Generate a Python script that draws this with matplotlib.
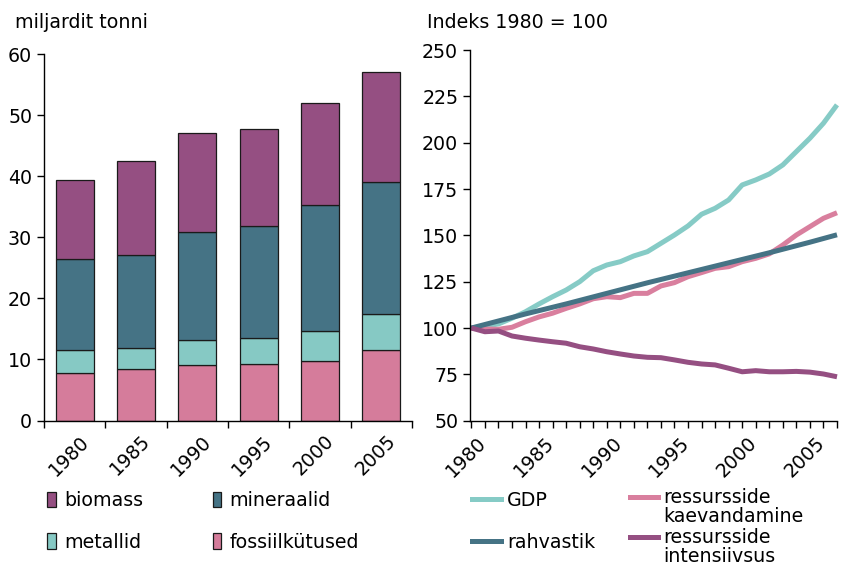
#!/usr/bin/env python3

import matplotlib.pyplot as plt
import matplotlib.transforms as mtransforms
from matplotlib.legend_handler import HandlerLine2D
from matplotlib.lines import Line2D
from matplotlib.patches import Patch


BAR_YEARS = ["1980", "1985", "1990", "1995", "2000", "2005"]
fossiil = [7.85, 8.4, 9.05, 9.3, 9.75, 11.6]
metallid = [3.75, 3.4, 4.15, 4.15, 4.85, 5.8]
mineraalid = [14.8, 15.3, 17.6, 18.45, 20.6, 21.7]
biomass = [13.0, 15.4, 16.3, 15.9, 16.7, 18.0]

years = list(range(1980, 2008))
gdp = [100, 101, 102.2, 105.3, 108.8, 113, 116.9, 120.5, 125, 130.9,
       134, 135.8, 138.9, 141.2, 145.7, 150.2, 155.1, 161.4, 164.6, 169.1,
       177.2, 179.9, 183.1, 188, 195.2, 202.4, 210.5, 220.4]
rahvastik = [100, 101.9, 103.8, 105.7, 107.6, 109.4, 111.2, 113.0, 114.9,
             116.8, 118.7, 120.6, 122.5, 124.4, 126.2, 128.0, 129.8, 131.6,
             133.4, 135.2, 137.0, 138.8, 140.6, 142.5, 144.4, 146.3, 148.3,
             150.3]
kaevandamine = [100, 99.5, 99.3, 100.4, 103.4, 106, 108, 110.6, 113, 115.8,
                116.9, 116.4, 118.7, 118.7, 122.7, 124.5, 127.7, 129.9, 132.2,
                133.1, 135.8, 137.6, 140, 144.8, 150.2, 154.7, 159.2, 162.2]
intensiivsus = [100, 98.0, 98.4, 95.7, 94.5, 93.5, 92.6, 91.8, 89.9, 88.7,
                87.2, 86.0, 84.9, 84.2, 84.0, 82.8, 81.5, 80.6, 80.1, 78.3,
                76.4, 77.0, 76.4, 76.4, 76.6, 76.2, 75.2, 73.7]

PURPLE = "#954F82"
DARKTEAL = "#457385"
LIGHTTEAL = "#86C9C4"
PINK = "#D57C9B"

FS = 13.7
plt.rcParams["font.family"] = ["DejaVu Sans"]
plt.rcParams["font.size"] = FS


class FirstLineHandler(HandlerLine2D):
    # put the line next to the first row of a two-line label
    def create_artists(self, legend, orig_handle, xdescent, ydescent,
                       width, height, fontsize, trans):
        artists = super().create_artists(legend, orig_handle, xdescent,
                                         ydescent, width, height, fontsize,
                                         trans)
        for a in artists:
            a.set_ydata([y + 0.55 * fontsize for y in a.get_ydata()])
        return artists


def style_axes(ax):
    for side in ("top", "right"):
        ax.spines[side].set_visible(False)
    for side in ("left", "bottom"):
        ax.spines[side].set_linewidth(1.0)
    ax.tick_params(which="both", direction="out", length=5, width=1,
                   labelsize=FS)


def shift_labels(fig, labels, dx):
    offset = mtransforms.ScaledTranslation(dx / 100, 0, fig.dpi_scale_trans)
    for label in labels:
        label.set_transform(label.get_transform() + offset)


fig = plt.figure(figsize=(8.41, 5.65), dpi=100)

# left: stacked bars
ax1 = fig.add_axes([44 / 841, 1 - 420.5 / 565, 368 / 841, 366.5 / 565])
x = list(range(len(BAR_YEARS)))
bottom = [0] * len(x)
stack = [(fossiil, PINK), (metallid, LIGHTTEAL),
         (mineraalid, DARKTEAL), (biomass, PURPLE)]
for values, color in stack:
    ax1.bar(x, values, width=0.62, bottom=bottom, color=color,
            edgecolor="#1a1a1a", linewidth=0.9)
    bottom = [b + v for b, v in zip(bottom, values)]

ax1.set_xlim(-0.5, len(x) - 0.5)
ax1.set_ylim(0, 60)
ax1.set_yticks(range(0, 61, 10))
ax1.set_xticks([i - 0.5 for i in range(len(x) + 1)], [""] * (len(x) + 1))
ax1.set_xticks(x, BAR_YEARS, minor=True)
style_axes(ax1)
ax1.tick_params(axis="x", which="minor", length=0, pad=8)
for label in ax1.get_xticklabels(minor=True):
    label.set_rotation(45)
    label.set_ha("center")

# right: index lines
ax2 = fig.add_axes([470 / 841, 1 - 420.7 / 565, 367 / 841, 370.7 / 565])
series = [(gdp, "#86CBC6"), (kaevandamine, "#D97F9E"),
          (rahvastik, DARKTEAL), (intensiivsus, PURPLE)]
for values, color in series:
    ax2.plot(years, values, color=color, linewidth=3.6,
             solid_capstyle="butt", clip_on=False)

ax2.set_xlim(1979.9, 2007)
ax2.set_ylim(50, 250)
ax2.set_yticks(range(50, 251, 25))
ax2.set_xticks(range(1980, 2006, 5))
ax2.set_xticks(years, minor=True)
style_axes(ax2)
ax2.tick_params(axis="x", which="major", pad=4)
for label in ax2.get_xticklabels():
    label.set_rotation(45)
    label.set_ha("center")

shift_labels(fig, ax1.get_xticklabels(minor=True), -6)
shift_labels(fig, ax2.get_xticklabels(), -5)

fig.text(15 / 841, 1 - 28.5 / 565, "miljardit tonni", fontsize=FS,
         va="baseline")
fig.text(427 / 841, 1 - 28.5 / 565, "Indeks 1980 = 100", fontsize=FS,
         va="baseline")

# legends
patches = [Patch(facecolor=c, edgecolor="#1a1a1a", linewidth=0.9)
           for c in (PURPLE, LIGHTTEAL, DARKTEAL, PINK)]
fig.legend(patches, ["biomass", "metallid", "mineraalid", "fossiilkütused"],
           ncol=2, loc="upper left", bbox_to_anchor=(47 / 841, 1 - 491 / 565),
           frameon=False, borderpad=0, borderaxespad=0, fontsize=FS,
           handlelength=0.45, handleheight=0.9, handletextpad=0.45,
           columnspacing=3.65, labelspacing=1.2)

fig.legend([Line2D([], [], color="#86CBC6", linewidth=3.6),
            Line2D([], [], color=DARKTEAL, linewidth=3.6)],
           ["GDP", "rahvastik"],
           loc="upper left", bbox_to_anchor=(472 / 841, 1 - 491 / 565),
           frameon=False, borderpad=0, borderaxespad=0, fontsize=FS,
           handlelength=1.5, handletextpad=0.35, labelspacing=1.2)

leg = fig.legend([Line2D([], [], color="#D97F9E", linewidth=3.6),
                  Line2D([], [], color=PURPLE, linewidth=3.6)],
                 ["ressursside\nkaevandamine", "ressursside\nintensiivsus"],
                 loc="upper left", bbox_to_anchor=(630 / 841, 1 - 488 / 565),
                 frameon=False, borderpad=0, borderaxespad=0, fontsize=FS,
                 handlelength=1.45, handletextpad=0.3, labelspacing=0.1,
                 handler_map={Line2D: FirstLineHandler()})
for t in leg.get_texts():
    t.set_linespacing(1.0)

plt.savefig("out.png", dpi=100)
